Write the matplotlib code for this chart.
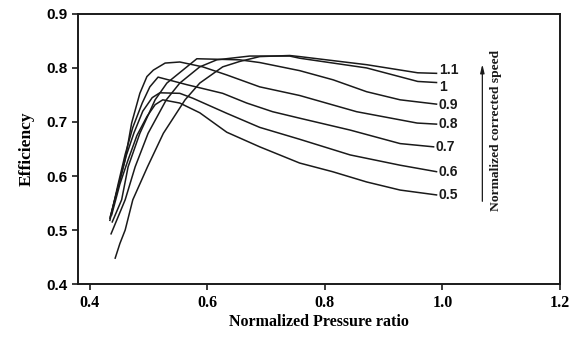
import matplotlib
matplotlib.use("Agg")
import matplotlib.pyplot as plt

# Normalized corrected speed lines: (pressure ratio, efficiency)
speeds = ["0.5", "0.6", "0.7", "0.8", "0.9", "1", "1.1"]

x_05 = [0.437, 0.451, 0.465, 0.480, 0.497, 0.511, 0.524, 0.553, 0.587, 0.633, 0.689, 0.757, 0.813, 0.871, 0.928, 0.990]
y_05 = [0.528, 0.585, 0.630, 0.675, 0.710, 0.732, 0.741, 0.735, 0.717, 0.681, 0.654, 0.624, 0.608, 0.589, 0.574, 0.565]

x_06 = [0.434, 0.448, 0.461, 0.475, 0.490, 0.506, 0.519, 0.553, 0.575, 0.633, 0.689, 0.757, 0.843, 0.928, 0.990]
y_06 = [0.522, 0.580, 0.635, 0.680, 0.720, 0.745, 0.754, 0.753, 0.744, 0.716, 0.690, 0.668, 0.639, 0.620, 0.608]

x_07 = [0.434, 0.448, 0.460, 0.473, 0.489, 0.502, 0.516, 0.565, 0.626, 0.667, 0.711, 0.757, 0.843, 0.928, 0.985]
y_07 = [0.518, 0.585, 0.640, 0.690, 0.735, 0.765, 0.783, 0.769, 0.753, 0.735, 0.719, 0.707, 0.685, 0.660, 0.654]

x_08 = [0.435, 0.448, 0.460, 0.471, 0.485, 0.497, 0.508, 0.528, 0.553, 0.592, 0.633, 0.689, 0.757, 0.854, 0.957, 0.990]
y_08 = [0.525, 0.580, 0.630, 0.698, 0.753, 0.784, 0.796, 0.809, 0.811, 0.802, 0.787, 0.765, 0.749, 0.719, 0.698, 0.696]

x_09 = [0.438, 0.454, 0.465, 0.485, 0.511, 0.531, 0.565, 0.582, 0.655, 0.689, 0.757, 0.814, 0.871, 0.928, 0.990]
y_09 = [0.515, 0.556, 0.617, 0.679, 0.741, 0.772, 0.802, 0.817, 0.815, 0.810, 0.795, 0.778, 0.756, 0.741, 0.733]

x_10 = [0.436, 0.460, 0.477, 0.499, 0.530, 0.553, 0.587, 0.616, 0.672, 0.740, 0.757, 0.871, 0.958, 0.990]
y_10 = [0.493, 0.556, 0.617, 0.679, 0.741, 0.772, 0.802, 0.815, 0.822, 0.822, 0.818, 0.800, 0.775, 0.773]

x_11 = [0.443, 0.451, 0.460, 0.473, 0.498, 0.525, 0.562, 0.587, 0.626, 0.655, 0.689, 0.740, 0.757, 0.871, 0.958, 0.990]
y_11 = [0.448, 0.475, 0.500, 0.556, 0.617, 0.679, 0.741, 0.772, 0.802, 0.812, 0.821, 0.823, 0.821, 0.806, 0.791, 0.790]

series_x = [x_05, x_06, x_07, x_08, x_09, x_10, x_11]
series_y = [y_05, y_06, y_07, y_08, y_09, y_10, y_11]

x_ticks = [0.4, 0.6, 0.8, 1.0, 1.2]
x_tick_labels = ["0.4", "0.6", "0.8", "1.0", "1.2"]
y_ticks = [0.4, 0.5, 0.6, 0.7, 0.8, 0.9]
y_tick_labels = ["0.4", "0.5", "0.6", "0.7", "0.8", "0.9"]

# small vertical nudges of the end labels (in data units) to keep them apart
label_dy = [0.0, 0.0, 0.0, 0.0, -0.002, -0.008, 0.007]

fig = plt.figure(figsize=(5.79, 3.39), dpi=100)
ax = fig.add_axes([0.134, 0.162, 0.833, 0.797])

for xs, ys, lab, dy in zip(series_x, series_y, speeds, label_dy):
    ax.plot(xs, ys, color="#1a1a1a", lw=1.1)
    ax.text(xs[-1] + 0.004, ys[-1] + dy, lab, ha="left", va="center",
            fontsize=10, fontweight="bold", family="Liberation Sans", color="#1a1a1a")

ax.set_xlim(0.379, 1.2)
ax.set_ylim(0.4, 0.9)
ax.set_xticks(x_ticks)
ax.set_xticklabels(x_tick_labels, family="Liberation Serif", fontweight="bold", fontsize=11.5)
ax.set_yticks(y_ticks)
ax.set_yticklabels(y_tick_labels, family="Liberation Sans", fontweight="bold", fontsize=11)
ax.tick_params(axis="both", direction="out", length=4, width=1.2, color="#1a1a1a")
ax.tick_params(axis="x", pad=4)
for s in ax.spines.values():
    s.set_linewidth(1.4)
    s.set_color("#1a1a1a")

ax.set_xlabel("Normalized Pressure ratio", family="Liberation Serif", fontweight="bold", fontsize=11.5, labelpad=2)
ax.set_ylabel("Efficiency", family="Liberation Serif", fontweight="bold", fontsize=12.5, labelpad=8)

ax.annotate("", xy=(1.068, 0.812), xytext=(1.068, 0.548),
            arrowprops=dict(arrowstyle="-|>,head_length=0.5,head_width=0.12", color="#1a1a1a", lw=0.9))
ax.text(1.092, 0.684, "Normalized corrected speed", rotation=90, ha="center", va="center",
        family="Liberation Serif", fontweight="bold", fontsize=9.7, color="#1a1a1a")

fig.savefig("out.png", dpi=100, facecolor="white")
